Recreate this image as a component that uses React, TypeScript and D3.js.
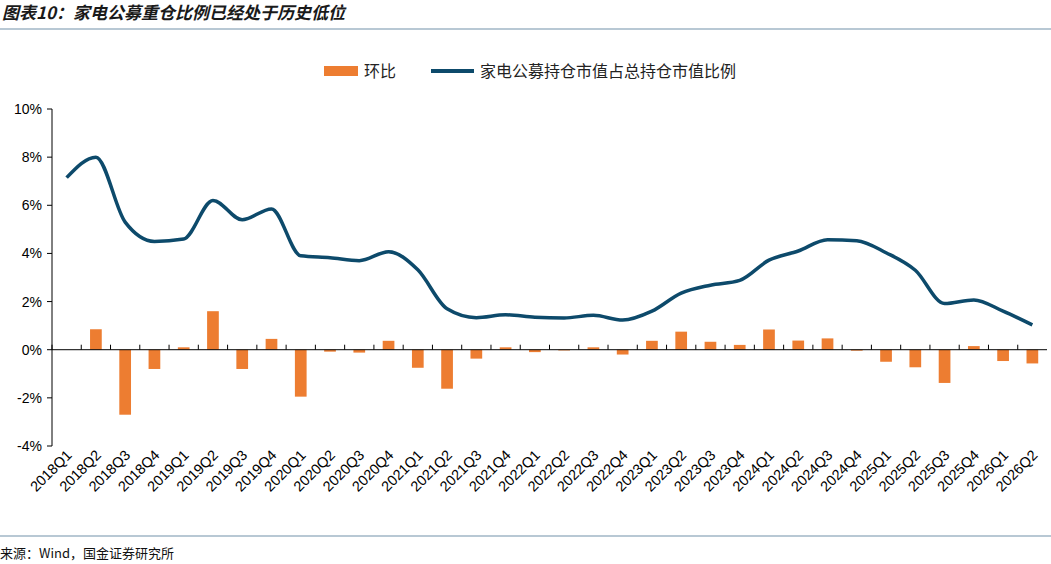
import * as d3 from 'd3';

const categories = ['2018Q1','2018Q2','2018Q3','2018Q4','2019Q1','2019Q2','2019Q3','2019Q4','2020Q1','2020Q2','2020Q3','2020Q4','2021Q1','2021Q2','2021Q3','2021Q4','2022Q1','2022Q2','2022Q3','2022Q4','2023Q1','2023Q2','2023Q3','2023Q4','2024Q1','2024Q2','2024Q3','2024Q4','2025Q1','2025Q2','2025Q3','2025Q4','2026Q1','2026Q2'];
const shareValues = [7.15,8.0,5.3,4.5,4.6,6.2,5.4,5.85,3.9,3.82,3.7,4.07,3.32,1.7,1.33,1.45,1.35,1.32,1.43,1.23,1.6,2.35,2.68,2.88,3.72,4.1,4.57,4.53,4.03,3.3,1.92,2.07,1.6,1.03];
const qoqValues = [0,0.85,-2.7,-0.8,0.1,1.6,-0.8,0.45,-1.95,-0.08,-0.12,0.37,-0.75,-1.62,-0.37,0.1,-0.1,-0.03,0.1,-0.2,0.37,0.75,0.33,0.2,0.84,0.38,0.47,-0.04,-0.5,-0.73,-1.38,0.15,-0.47,-0.57];
const yTicks = [-4,-2,0,2,4,6,8,10];

const W = 1051, H = 564;
const font = 'Arial, "Liberation Sans", "Noto Sans CJK SC", sans-serif';
const cjk = '"Noto Sans CJK SC", sans-serif';

export default function App() {
  const x = d3.scaleBand<string>().domain(categories).range([52, 1047]);
  const y = d3.scaleLinear().domain([-4, 10]).range([446, 109]);
  const line = d3.line<number>()
    .x((_, i) => x(categories[i])! + x.bandwidth() / 2)
    .y((d) => y(d))
    .curve(d3.curveMonotoneX);
  const bw = x.bandwidth() * 0.4;

  return (
    <svg width={W} height={H} style={{ position: 'absolute', left: 0, top: 0, background: '#fff' }} fontFamily={font}>
      <text x={2} y={19} fontSize={17} fontWeight="bold" fontStyle="italic" fill="#1a1a1a" fontFamily={cjk}>图表10：家电公募重仓比例已经处于历史低位</text>
      <line x1={0} x2={W} y1={29} y2={29} stroke="#b8c8d4" strokeWidth={2} />

      {/* legend */}
      <rect x={324} y={66} width={34} height={10} fill="#ed7d31" />
      <text x={364} y={77} fontSize={16} fill="#222" fontFamily={cjk}>环比</text>
      <line x1={431} x2={474} y1={71} y2={71} stroke="#0d4a6b" strokeWidth={4} />
      <text x={480} y={77} fontSize={16} fill="#222" fontFamily={cjk}>家电公募持仓市值占总持仓市值比例</text>

      {/* y axis */}
      <line x1={52} x2={52} y1={109} y2={446} stroke="#000" />
      {yTicks.map((t) => (
        <g key={t}>
          <line x1={47} x2={52} y1={y(t)} y2={y(t)} stroke="#000" />
          <text x={42} y={y(t) + 5} fontSize={14} textAnchor="end" fill="#000">{t}%</text>
        </g>
      ))}

      {/* bars */}
      {qoqValues.map((v, i) => (
        <rect key={i} x={x(categories[i])! + x.bandwidth() / 2 - bw / 2} y={y(Math.max(0, v))}
          width={bw} height={Math.abs(y(v) - y(0))} fill="#ed7d31" />
      ))}

      {/* zero axis */}
      <line x1={52} x2={1047} y1={y(0)} y2={y(0)} stroke="#000" />
      {categories.map((c) => (
        <line key={c} x1={x(c)!} x2={x(c)!} y1={y(0)} y2={y(0) - 5} stroke="#000" />
      ))}

      <path d={line(shareValues)!} fill="none" stroke="#0d4a6b" strokeWidth={3.5} />

      {categories.map((c) => {
        const cx = x(c)! + x.bandwidth() / 2 + 6;
        return (
          <text key={c} transform={`translate(${cx},${456}) rotate(-45)`} textAnchor="end" fontSize={14.5} fill="#000">{c}</text>
        );
      })}

      <line x1={0} x2={W} y1={536} y2={536} stroke="#b8c8d4" strokeWidth={2} />
      <text x={0} y={558} fontSize={13} fill="#111" fontFamily={cjk}>来源：Wind，国金证券研究所</text>
    </svg>
  );
}
